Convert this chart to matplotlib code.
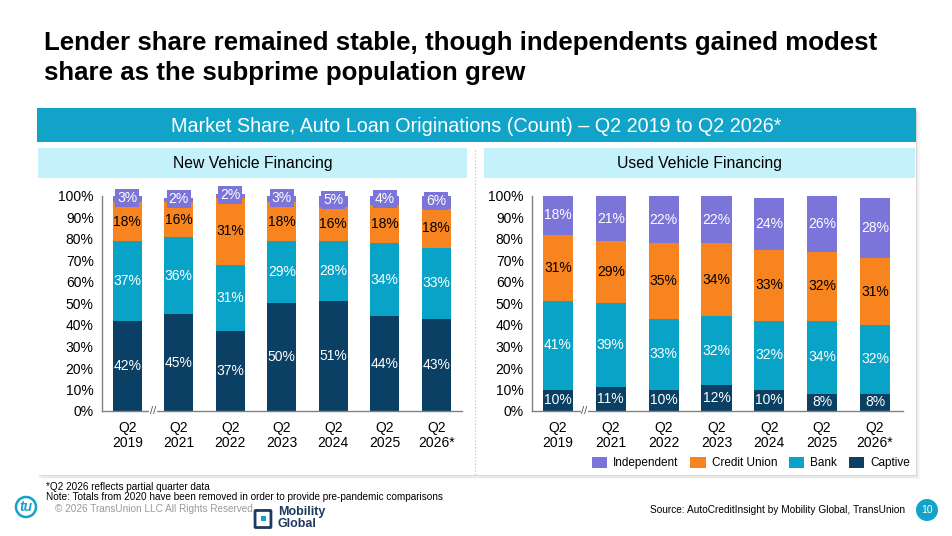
import matplotlib.pyplot as plt
from matplotlib.patches import Rectangle, Ellipse, FancyBboxPatch

plt.rcParams['font.family'] = ['Liberation Sans', 'DejaVu Sans']

W, H = 953, 536

# data
periods = ['Q2\n2019', 'Q2\n2021', 'Q2\n2022', 'Q2\n2023', 'Q2\n2024', 'Q2\n2025', 'Q2\n2026*']
segments = ['Captive', 'Bank', 'Credit Union', 'Independent']

new_captive = [42, 45, 37, 50, 51, 44, 43]
new_bank = [37, 36, 31, 29, 28, 34, 33]
new_credit_union = [18, 16, 31, 18, 16, 18, 18]
new_independent = [3, 2, 2, 3, 5, 4, 6]

used_captive = [10, 11, 10, 12, 10, 8, 8]
used_bank = [41, 39, 33, 32, 32, 34, 32]
used_credit_union = [31, 29, 35, 34, 33, 32, 31]
used_independent = [18, 21, 22, 22, 24, 26, 28]

yticks = [0, 10, 20, 30, 40, 50, 60, 70, 80, 90, 100]

colors = {'Captive': '#0B3F63', 'Bank': '#0AA3C8',
          'Credit Union': '#F7841F', 'Independent': '#7B74D9'}
text_colors = {'Captive': 'white', 'Bank': 'white',
               'Credit Union': 'black', 'Independent': 'white'}
TEAL = '#12A3C8'


def fbox(x0, y0, x1, y1):
    # pixel box (top-left origin) -> figure fraction rect
    return [x0 / W, 1 - y1 / H, (x1 - x0) / W, (y1 - y0) / H]


def fx(x):
    return x / W


def fy(y):
    return 1 - y / H


def circle(x, y, r, **kw):
    return Ellipse((fx(x), fy(y)), 2 * r / W, 2 * r / H, transform=fig.transFigure, **kw)


fig = plt.figure(figsize=(W / 100, H / 100), dpi=100)
fig.patch.set_facecolor('white')

# title
fig.text(fx(44), fy(43), 'Lender share remained stable, though independents gained modest',
         fontsize=18.6, fontweight='bold', va='center', ha='left')
fig.text(fx(44), fy(73), 'share as the subprime population grew',
         fontsize=18.6, fontweight='bold', va='center', ha='left')

# card shadow + card
for off, a in [(4, 0.03), (2.5, 0.05), (1, 0.07)]:
    fig.patches.append(Rectangle((fx(37 + off), fy(475 + off)), (916 - 37) / W, (475 - 108) / H,
                                 transform=fig.transFigure, color='black', alpha=a, lw=0, zorder=0))
fig.patches.append(Rectangle((fx(37), fy(475)), (916 - 37) / W, (475 - 108) / H,
                             transform=fig.transFigure, color='white', lw=0, zorder=0.5))

# banner
fig.patches.append(Rectangle((fx(37), fy(142)), (916 - 37) / W, (142 - 108) / H,
                             transform=fig.transFigure, color=TEAL, lw=0, zorder=1))
fig.text(fx(476), fy(126), 'Market Share, Auto Loan Originations (Count) \u2013 Q2 2019 to Q2 2026*',
         color='white', fontsize=14.2, ha='center', va='center', zorder=2)

# sub headers
for x0, x1, label in [(38, 467, 'New Vehicle Financing'), (484, 915, 'Used Vehicle Financing')]:
    fig.patches.append(Rectangle((fx(x0), fy(178)), (x1 - x0) / W, (178 - 148) / H,
                                 transform=fig.transFigure, color='#C5F1FB', lw=0, zorder=1))
    fig.text(fx((x0 + x1) / 2), fy(163), label, fontsize=11.3, ha='center', va='center', zorder=2)

# dotted divider
fig.lines.append(plt.Line2D([fx(475), fx(475)], [fy(150), fy(475)], transform=fig.transFigure,
                            color='#BBBBBB', lw=0.8, ls=(0, (1, 2)), zorder=1))


def draw_panel(box, xlim, width, data):
    ax = fig.add_axes(fbox(*box), zorder=5)
    ax.set_facecolor('none')
    x = list(range(len(periods)))
    bottom = [0] * len(periods)
    handles = []
    for seg in segments:
        vals = data[seg]
        bars = ax.bar(x, vals, width=width, bottom=bottom, color=colors[seg],
                      edgecolor='none', clip_on=False, zorder=2, label=seg)
        handles.append(bars)
        for xi, v, b in zip(x, vals, bottom):
            yc = b + v / 2
            kw = {}
            if v < 8:
                kw['bbox'] = dict(boxstyle='square,pad=0.15', fc=colors[seg], ec='none')
                yc = b + v / 2 + 0.5
            ax.text(xi, yc, f'{v}%', ha='center', va='center', fontsize=10,
                    color=text_colors[seg], zorder=3, **kw)
        bottom = [b + v for b, v in zip(bottom, vals)]
    ax.set_xlim(*xlim)
    ax.set_ylim(0, 100)
    ax.set_yticks(yticks)
    ax.set_yticklabels([f'{t}%' for t in yticks])
    ax.set_xticks(x)
    ax.set_xticklabels(periods, linespacing=1.1)
    ax.tick_params(length=0, labelsize=10, pad=6)
    ax.tick_params(axis='x', pad=7)
    for s in ['top', 'right']:
        ax.spines[s].set_visible(False)
    for s in ['left', 'bottom']:
        ax.spines[s].set_color('#808080')
        ax.spines[s].set_linewidth(1)
    ax.text(0.5, 0, '//', ha='center', va='center', fontsize=8, color='#555555',
            transform=ax.get_xaxis_transform(), zorder=4,
            bbox=dict(boxstyle='square,pad=0.05', fc='white', ec='none'))
    return ax, handles


new_data = {'Captive': new_captive, 'Bank': new_bank,
            'Credit Union': new_credit_union, 'Independent': new_independent}
used_data = {'Captive': used_captive, 'Bank': used_bank,
             'Credit Union': used_credit_union, 'Independent': used_independent}

draw_panel((102, 196, 462, 411), (-0.49, 6.5), 0.56, new_data)
ax_used, handles = draw_panel((532, 196, 903, 411), (-0.49, 6.53), 0.57, used_data)

# legend (Independent first, like the slide)
order = [3, 2, 1, 0]
leg = fig.legend([handles[i] for i in order], [segments[i] for i in order],
                 loc='center', bbox_to_anchor=(fx(751), fy(463)), ncol=4, frameon=False,
                 fontsize=8.5, handlelength=1.3, handleheight=1.1, handletextpad=0.5,
                 columnspacing=1.0)
leg.set_zorder(6)

# footer
fig.text(fx(46), fy(487), '*Q2 2026 reflects partial quarter data', fontsize=7.2, va='center')
fig.text(fx(46), fy(497), 'Note: Totals from 2020 have been removed in order to provide pre-pandemic comparisons',
         fontsize=7.2, va='center')
fig.text(fx(55), fy(509), '\u00a9 2026 TransUnion LLC All Rights Reserved', fontsize=7.2,
         color='#9A9A9A', va='center')
fig.text(fx(905), fy(510), 'Source: AutoCreditInsight by Mobility Global, TransUnion', fontsize=7.25,
         ha='right', va='center')

# TU logo
fig.patches.append(circle(26, 507, 10, fill=False, ec=TEAL, lw=1.8))
fig.text(fx(26), fy(507), 'tu', color=TEAL, fontsize=10, fontweight='bold',
         fontstyle='italic', ha='center', va='center')

# Mobility Global logo
fig.patches.append(FancyBboxPatch((fx(256), fy(527)), 14 / W, 16 / H, transform=fig.transFigure,
                                  boxstyle='round,pad=0.001', fc='none', ec='#1E3A5F', lw=2))
fig.patches.append(Rectangle((fx(260.5), fy(521)), 5 / W, 5 / H, transform=fig.transFigure,
                             color=TEAL, lw=0))
fig.text(fx(278), fy(512), 'Mobility', fontsize=9, fontweight='bold', color='#1E3A5F', va='center')
fig.text(fx(278), fy(524), 'Global', fontsize=9, fontweight='bold', color='#1E3A5F', va='center')

# page number
fig.patches.append(circle(927, 510, 11, color=TEAL, lw=0))
fig.text(fx(927), fy(510), '10', color='white', fontsize=7.5, ha='center', va='center')

fig.savefig('out.png', dpi=100, facecolor='white')
